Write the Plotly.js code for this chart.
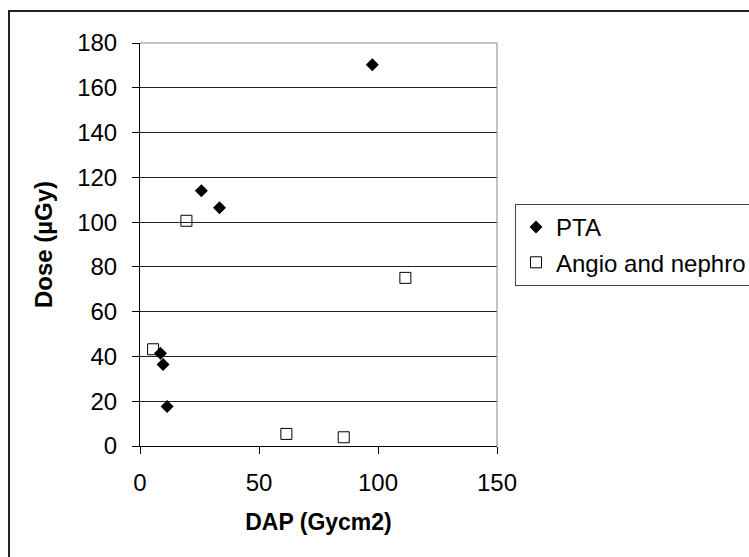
<!DOCTYPE html>
<html>
<head>
<meta charset="utf-8">
<script src="https://cdn.plot.ly/plotly-3.0.1.min.js"></script>
<style>
  html, body { margin: 0; padding: 0; background: #fff; overflow: hidden; }
  #wrap { position: relative; width: 749px; height: 557px; }
  #chart { position: absolute; left: 0; top: 0; width: 749px; height: 557px; }
  #frame { position: absolute; left: 8px; top: 10px; width: 800px; height: 600px;
           border-left: 2px solid #222; border-top: 2px solid #222; pointer-events: none; }
</style>
</head>
<body>
<div id="wrap">
  <div id="chart"></div>
  <div id="frame"></div>
</div>
<script>
// Series: PTA
const ptaX = [97.6, 25.8, 33.4, 8.6, 9.7, 11.4];
const ptaY = [170.3, 114, 106.4, 41.4, 36.4, 17.6];
// Series: Angio and nephro
const angX = [19.5, 111.5, 5.5, 61.5, 85.6];
const angY = [100.6, 75.1, 43.2, 5.4, 3.9];

const seriesNames = ["PTA", "Angio and nephro"];
const xTicks = [0, 50, 100, 150];
const yTicks = [0, 20, 40, 60, 80, 100, 120, 140, 160, 180];

const FONT = "Liberation Sans, Arial, sans-serif";

const traces = [
  {
    x: ptaX, y: ptaY, type: "scatter", mode: "markers", name: seriesNames[0],
    legendgroup: "a",
    marker: { symbol: "diamond", size: 10, color: "#000", line: { width: 0 } }
  },
  {
    x: angX, y: angY, type: "scatter", mode: "markers", name: seriesNames[1],
    legendgroup: "b",
    marker: { symbol: "square-open", size: 11, color: "#000", line: { width: 1, color: "#000" } }
  }
];

const layout = {
  width: 749, height: 557,
  margin: { l: 140, r: 252, t: 43, b: 111, autoexpand: false },
  paper_bgcolor: "#fff", plot_bgcolor: "#fff",
  font: { family: FONT, color: "#000", size: 24 },
  showlegend: true,
  legend: {
    x: 515 / 749, xref: "container", y: 1 - 204 / 557, yref: "container",
    xanchor: "left", yanchor: "top",
    bordercolor: "#444", borderwidth: 1, bgcolor: "#fff",
    font: { family: FONT, size: 24, color: "#000" },
    tracegroupgap: 1
  },
  xaxis: {
    range: [0, 150], tickvals: xTicks, ticktext: xTicks.map(String),
    showgrid: false, zeroline: false,
    showline: true, linecolor: "#000", linewidth: 1,
    ticks: "outside", ticklen: 7, tickcolor: "#000", tickwidth: 1,
    tickfont: { family: FONT, size: 24, color: "#000" },
    ticklabelstandoff: 8,
    title: { text: "DAP (Gycm2)", font: { family: FONT, size: 23, color: "#000", weight: "bold" }, standoff: 19 },
    fixedrange: true
  },
  yaxis: {
    range: [0, 180], tickvals: yTicks, ticktext: yTicks.map(String),
    showgrid: true, gridcolor: "#222", gridwidth: 1, zeroline: false,
    showline: true, linecolor: "#000", linewidth: 1,
    ticks: "outside", ticklen: 7, tickcolor: "#000", tickwidth: 1,
    tickfont: { family: FONT, size: 24, color: "#000" },
    ticklabelstandoff: 10,
    title: { text: "Dose (µGy)", font: { family: FONT, size: 24, color: "#000", weight: "bold" }, standoff: 17 },
    fixedrange: true
  },
  shapes: [
    { type: "line", xref: "x domain", yref: "y domain", x0: 0, x1: 1, y0: 1, y1: 1,
      line: { color: "#888", width: 1 }, layer: "above" },
    { type: "line", xref: "x domain", yref: "y domain", x0: 1, x1: 1, y0: 0, y1: 1,
      line: { color: "#888", width: 1 }, layer: "above" }
  ]
};

Plotly.newPlot("chart", traces, layout, { displayModeBar: false, staticPlot: true });
</script>
</body>
</html>
